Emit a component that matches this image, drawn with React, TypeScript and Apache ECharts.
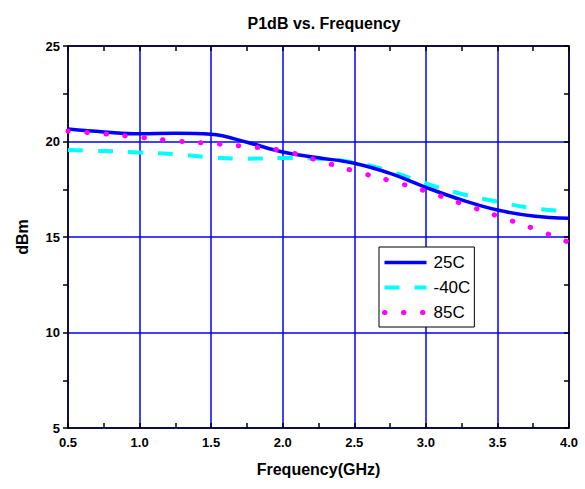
import React, { useEffect, useRef } from "react";
import * as echarts from "echarts";

const freqs = [0.5, 0.75, 1.0, 1.25, 1.5, 1.75, 2.0, 2.25, 2.5, 2.75, 3.0, 3.25, 3.5, 3.75, 4.0];
const p25C = [20.65, 20.5, 20.4, 20.43, 20.38, 19.96, 19.45, 19.15, 18.86, 18.33, 17.6, 16.94, 16.41, 16.1, 15.98];
const pM40C = [19.55, 19.5, 19.43, 19.33, 19.17, 19.1, 19.14, 19.1, 18.9, 18.45, 17.8, 17.25, 16.85, 16.5, 16.35];
const p85C = [20.55, 20.4, 20.22, 20.03, 19.9, 19.73, 19.52, 19.0, 18.45, 17.95, 17.4, 16.75, 16.1, 15.45, 14.72];
const seriesNames = ["25C", "-40C", "85C"];

const FONT = "Liberation Sans, Arial, sans-serif";

export default function App() {
  const ref = useRef<HTMLDivElement>(null);
  useEffect(() => {
    if (!ref.current) return;
    const chart = echarts.init(ref.current, undefined, { renderer: "svg" });
    const pair = (ys: number[]) => freqs.map((x, i) => [x, ys[i]]);
    const tickStyle = { color: "#000", width: 1.5 };
    chart.setOption({
      animation: false,
      backgroundColor: "#fff",
      textStyle: { fontFamily: FONT },
      title: {
        text: "P1dB vs. Frequency",
        left: 319,
        textAlign: "center",
        top: 10,
        textStyle: { fontFamily: FONT, fontSize: 16, fontWeight: "bold", color: "#000" },
      },
      grid: { left: 68, right: 16, top: 46, bottom: 61 },
      legend: {
        orient: "vertical",
        left: 379,
        top: 247,
        data: seriesNames,
        itemWidth: 42,
        itemHeight: 14,
        itemGap: 8,
        padding: [7, 4, 6, 3],
        borderColor: "#000",
        borderWidth: 1,
        backgroundColor: "#fff",
        itemStyle: { opacity: 0 },
        lineStyle: { width: "inherit", type: "inherit", cap: "inherit" },
        textStyle: { fontFamily: FONT, fontSize: 17, color: "#000", padding: [0, 0, 0, 2] },
      },
      xAxis: [
        {
          type: "value",
          position: "bottom",
          min: 0.5,
          max: 4.0,
          interval: 0.5,
          name: "Frequency(GHz)",
          nameLocation: "middle",
          nameGap: 33,
          nameTextStyle: { fontFamily: FONT, fontSize: 16, fontWeight: "bold", color: "#000" },
          axisLine: { show: true, onZero: false, lineStyle: { color: "#000", width: 1.5 } },
          axisTick: { show: true, inside: true, length: 5, lineStyle: tickStyle },
          minorTick: { show: true, splitNumber: 2, length: 5, lineStyle: tickStyle },
          axisLabel: {
            margin: 8,
            fontFamily: FONT,
            fontSize: 13,
            fontWeight: "bold",
            color: "#000",
            formatter: (v: number) => v.toFixed(1),
          },
          splitLine: { show: true, lineStyle: { color: "#0000ff", width: 1.5 } },
        },
        {
          type: "value",
          position: "top",
          min: 0.5,
          max: 4.0,
          interval: 0.5,
          axisLine: { show: true, onZero: false, lineStyle: { color: "#000", width: 1.5 } },
          axisTick: { show: true, inside: true, length: 5, lineStyle: tickStyle },
          minorTick: { show: true, splitNumber: 2, length: 5, lineStyle: tickStyle },
          axisLabel: { show: false },
          splitLine: { show: false },
        },
      ],
      yAxis: [
        {
          type: "value",
          position: "left",
          min: 5,
          max: 25,
          interval: 5,
          name: "dBm",
          nameLocation: "middle",
          nameGap: 38,
          nameTextStyle: { fontFamily: FONT, fontSize: 16, fontWeight: "bold", color: "#000" },
          axisLine: { show: true, onZero: false, lineStyle: { color: "#000", width: 1.5 } },
          axisTick: { show: true, inside: false, length: 5, lineStyle: tickStyle },
          minorTick: { show: true, splitNumber: 2, length: 5, lineStyle: tickStyle },
          axisLabel: { margin: 8, fontFamily: FONT, fontSize: 13, fontWeight: "bold", color: "#000" },
          splitLine: { show: true, lineStyle: { color: "#0000ff", width: 1.5 } },
        },
        {
          type: "value",
          position: "right",
          min: 5,
          max: 25,
          interval: 5,
          axisLine: { show: true, onZero: false, lineStyle: { color: "#000", width: 1.5 } },
          axisTick: { show: true, inside: true, length: 5, lineStyle: tickStyle },
          minorTick: { show: true, splitNumber: 2, length: 5, lineStyle: tickStyle },
          axisLabel: { show: false },
          splitLine: { show: false },
        },
      ],
      series: [
        {
          name: seriesNames[0],
          type: "line",
          smooth: 0.4,
          symbol: "none",
          data: pair(p25C),
          lineStyle: { color: "#0000ff", width: 3.5 },
          itemStyle: { color: "#0000ff" },
          z: 4,
        },
        {
          name: seriesNames[1],
          type: "line",
          smooth: 0.4,
          symbol: "none",
          data: pair(pM40C),
          lineStyle: { color: "#00ffff", width: 4, type: [15, 15] },
          itemStyle: { color: "#00ffff" },
          z: 3,
        },
        {
          name: seriesNames[2],
          type: "line",
          smooth: 0.4,
          symbol: "none",
          data: pair(p85C),
          lineStyle: { color: "#ff00ff", width: 5, type: [0.5, 18.5], cap: "round" },
          itemStyle: { color: "#ff00ff" },
          z: 5,
        },
      ],
    });
    return () => chart.dispose();
  }, []);
  return (
    <div
      ref={ref}
      style={{ position: "fixed", left: 0, top: 0, width: 585, height: 489, background: "#fff" }}
    />
  );
}
